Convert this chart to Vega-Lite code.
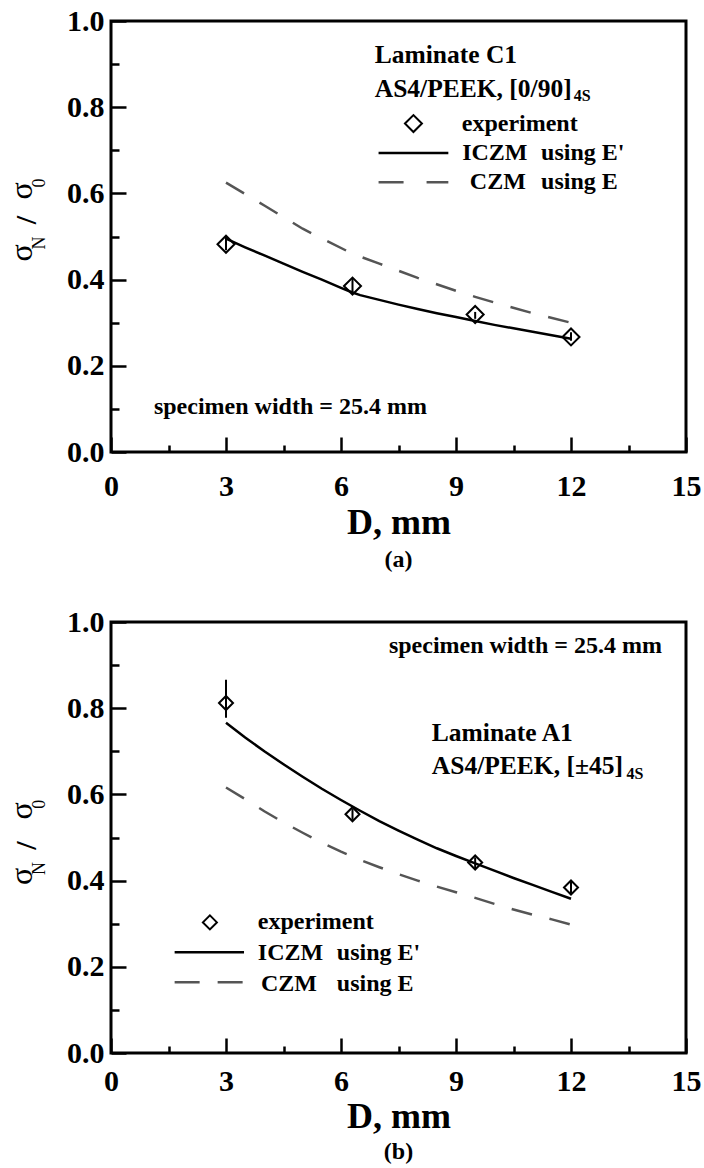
{
  "$schema": "https://vega.github.io/schema/vega-lite/v6.json",
  "background": "white",
  "padding": {"left": 4, "top": 4, "right": 0, "bottom": 0},
  "spacing": 31,
  "config": {
    "view": {"stroke": "black", "strokeWidth": 3},
    "axis": {
      "domain": false, "grid": false,
      "labelFont": "Liberation Serif", "labelFontWeight": "bold", "labelFontSize": 30, "labelColor": "black",
      "titleFont": "Liberation Serif", "titleFontWeight": "bold", "titleFontSize": 36, "titleColor": "black",
      "tickColor": "black", "tickWidth": 2.5, "labelFlush": false, "labelOverlap": false
    },
    "text": {"font": "Liberation Serif", "fontWeight": "bold", "fontSize": 24, "color": "black"}
  },
  "datasets": {
    "a_icz": [
      {"D": 3, "v": 0.495}, {"D": 3.5, "v": 0.475}, {"D": 4, "v": 0.456}, {"D": 4.5, "v": 0.437},
      {"D": 5, "v": 0.418}, {"D": 5.5, "v": 0.4}, {"D": 6, "v": 0.381}, {"D": 6.3, "v": 0.37},
      {"D": 6.5, "v": 0.364}, {"D": 7, "v": 0.353}, {"D": 7.5, "v": 0.342}, {"D": 8, "v": 0.332},
      {"D": 8.5, "v": 0.322}, {"D": 9, "v": 0.313}, {"D": 9.5, "v": 0.304}, {"D": 10, "v": 0.295},
      {"D": 10.5, "v": 0.287}, {"D": 11, "v": 0.279}, {"D": 11.5, "v": 0.271}, {"D": 12, "v": 0.263}
    ],
    "a_czm": [
      {"D": 3, "v": 0.625}, {"D": 4, "v": 0.572}, {"D": 5, "v": 0.518}, {"D": 6.3, "v": 0.46},
      {"D": 7, "v": 0.437}, {"D": 8, "v": 0.404}, {"D": 9, "v": 0.374}, {"D": 9.5, "v": 0.36},
      {"D": 10, "v": 0.347}, {"D": 11, "v": 0.322}, {"D": 12, "v": 0.3}
    ],
    "a_exp": [
      {"D": 3, "v": 0.482, "lo": 0.468, "hi": 0.499},
      {"D": 6.3, "v": 0.385, "lo": 0.367, "hi": 0.402},
      {"D": 9.5, "v": 0.319, "lo": 0.309, "hi": 0.325},
      {"D": 12, "v": 0.267, "lo": 0.258, "hi": 0.278}
    ],
    "b_icz": [
      {"D": 3, "v": 0.766}, {"D": 3.5, "v": 0.732}, {"D": 4, "v": 0.7}, {"D": 4.5, "v": 0.67},
      {"D": 5, "v": 0.641}, {"D": 5.5, "v": 0.613}, {"D": 6, "v": 0.587}, {"D": 6.5, "v": 0.562},
      {"D": 7, "v": 0.538}, {"D": 7.5, "v": 0.516}, {"D": 8, "v": 0.495}, {"D": 8.5, "v": 0.475},
      {"D": 9, "v": 0.457}, {"D": 9.5, "v": 0.44}, {"D": 10, "v": 0.423}, {"D": 10.5, "v": 0.406},
      {"D": 11, "v": 0.39}, {"D": 11.5, "v": 0.374}, {"D": 12, "v": 0.358}
    ],
    "b_czm": [
      {"D": 3, "v": 0.616}, {"D": 3.5, "v": 0.589}, {"D": 4, "v": 0.561}, {"D": 4.5, "v": 0.535},
      {"D": 5, "v": 0.511}, {"D": 5.5, "v": 0.488}, {"D": 6, "v": 0.467}, {"D": 6.5, "v": 0.448},
      {"D": 7, "v": 0.431}, {"D": 7.5, "v": 0.415}, {"D": 8, "v": 0.4}, {"D": 8.5, "v": 0.386},
      {"D": 9, "v": 0.373}, {"D": 9.5, "v": 0.36}, {"D": 10, "v": 0.346}, {"D": 10.5, "v": 0.333},
      {"D": 11, "v": 0.321}, {"D": 11.5, "v": 0.31}, {"D": 12, "v": 0.298}
    ],
    "b_exp": [
      {"D": 3, "v": 0.812, "lo": 0.778, "hi": 0.866},
      {"D": 6.3, "v": 0.554, "lo": 0.541, "hi": 0.566},
      {"D": 9.5, "v": 0.442, "lo": 0.427, "hi": 0.454},
      {"D": 12, "v": 0.384, "lo": 0.369, "hi": 0.397}
    ]
  },
  "vconcat": [
    {
      "width": 575, "height": 431,
      "data": {"values": [{"k": 1}]},
      "layer": [
        {
          "data": {"name": "a_czm"},
          "mark": {"type": "line", "color": "#555555", "strokeWidth": 2.5, "strokeDash": [21, 18]},
          "encoding": {
            "x": {"field": "D", "type": "quantitative",
              "scale": {"domain": [0, 15], "nice": false, "zero": false},
              "axis": {"values": [0, 1.5, 3, 4.5, 6, 7.5, 9, 10.5, 12, 13.5, 15],
                "labelExpr": "datum.value % 3 === 0 ? format(datum.value, 'd') : ''",
                "tickSize": -15,
                "tickDash": {"condition": {"test": "datum.value % 3 !== 0", "value": [7, 40]}, "value": []},
                "labelPadding": 34, "title": "D, mm", "titlePadding": 4}},
            "y": {"field": "v", "type": "quantitative",
              "scale": {"domain": [0, 1], "nice": false, "zero": false},
              "axis": {"values": [0, 0.1, 0.2, 0.3, 0.4, 0.5, 0.6, 0.7, 0.8, 0.9, 1],
                "labelExpr": "round(datum.value*10) % 2 === 0 ? format(datum.value, '.1f') : ''",
                "tickSize": -15,
                "tickDash": {"condition": {"test": "round(datum.value*10) % 2 !== 0", "value": [8, 40]}, "value": []},
                "labelPadding": 22, "title": null}}
          }
        },
        {
          "data": {"name": "a_icz"},
          "mark": {"type": "line", "color": "black", "strokeWidth": 2.5},
          "encoding": {"x": {"field": "D", "type": "quantitative"}, "y": {"field": "v", "type": "quantitative"}}
        },
        {
          "data": {"name": "a_exp"},
          "mark": {"type": "rule", "color": "black", "strokeWidth": 2},
          "encoding": {"x": {"field": "D", "type": "quantitative"}, "y": {"field": "lo", "type": "quantitative"}, "y2": {"field": "hi"}}
        },
        {
          "data": {"name": "a_exp"},
          "mark": {"type": "point", "shape": "diamond", "filled": false, "color": "black", "strokeWidth": 2, "size": 289, "opacity": 1},
          "encoding": {"x": {"field": "D", "type": "quantitative"}, "y": {"field": "v", "type": "quantitative"}}
        },
        {
          "mark": {"type": "point", "shape": "diamond", "filled": false, "color": "black", "strokeWidth": 2, "size": 289, "opacity": 1},
          "encoding": {"x": {"datum": 7.89}, "y": {"datum": 0.762}}
        },
        {
          "mark": {"type": "rule", "color": "black", "strokeWidth": 2.5},
          "encoding": {"x": {"datum": 6.98}, "x2": {"datum": 8.8}, "y": {"datum": 0.694}}
        },
        {
          "mark": {"type": "rule", "color": "#555555", "strokeWidth": 2.5, "strokeDash": [25, 23]},
          "encoding": {"x": {"datum": 6.98}, "x2": {"datum": 8.8}, "y": {"datum": 0.626}}
        },
        {"mark": {"type": "text", "text": "Laminate C1", "align": "left", "baseline": "middle", "fontSize": 25.5},
         "encoding": {"x": {"datum": 6.88}, "y": {"datum": 0.921}}},
        {"mark": {"type": "text", "text": "AS4/PEEK, [0/90]", "align": "left", "baseline": "middle", "fontSize": 25.5},
         "encoding": {"x": {"datum": 6.88}, "y": {"datum": 0.842}}},
        {"mark": {"type": "text", "text": "4S", "align": "left", "baseline": "middle", "fontSize": 16},
         "encoding": {"x": {"datum": 12.07}, "y": {"datum": 0.826}}},
        {"mark": {"type": "text", "text": "experiment", "align": "left", "baseline": "middle"},
         "encoding": {"x": {"datum": 9.15}, "y": {"datum": 0.762}}},
        {"mark": {"type": "text", "text": "ICZM", "align": "left", "baseline": "middle"},
         "encoding": {"x": {"datum": 9.16}, "y": {"datum": 0.694}}},
        {"mark": {"type": "text", "text": "using E'", "align": "left", "baseline": "middle"},
         "encoding": {"x": {"datum": 11.22}, "y": {"datum": 0.694}}},
        {"mark": {"type": "text", "text": "CZM", "align": "left", "baseline": "middle"},
         "encoding": {"x": {"datum": 9.36}, "y": {"datum": 0.626}}},
        {"mark": {"type": "text", "text": "using E", "align": "left", "baseline": "middle"},
         "encoding": {"x": {"datum": 11.22}, "y": {"datum": 0.626}}},
        {"mark": {"type": "text", "text": "specimen width = 25.4 mm", "align": "left", "baseline": "middle"},
         "encoding": {"x": {"datum": 1.12}, "y": {"datum": 0.104}}},
        {"mark": {"type": "text", "text": "(a)", "align": "center", "baseline": "middle"},
         "encoding": {"x": {"datum": 7.5}, "y": {"datum": -0.251}}},
        {"mark": {"type": "text", "text": "σ", "angle": 270, "align": "center", "baseline": "middle", "fontSize": 32, "fontWeight": "normal"},
         "encoding": {"x": {"datum": -2.33}, "y": {"datum": 0.462}}},
        {"mark": {"type": "text", "text": "N", "angle": 270, "align": "center", "baseline": "middle", "fontSize": 18, "fontWeight": "normal"},
         "encoding": {"x": {"datum": -1.85}, "y": {"datum": 0.485}}},
        {"mark": {"type": "text", "text": "/", "angle": 270, "align": "center", "baseline": "middle", "fontSize": 30},
         "encoding": {"x": {"datum": -2.2}, "y": {"datum": 0.538}}},
        {"mark": {"type": "text", "text": "σ", "angle": 270, "align": "center", "baseline": "middle", "fontSize": 32, "fontWeight": "normal"},
         "encoding": {"x": {"datum": -2.33}, "y": {"datum": 0.606}}},
        {"mark": {"type": "text", "text": "0", "angle": 270, "align": "center", "baseline": "middle", "fontSize": 18, "fontWeight": "normal"},
         "encoding": {"x": {"datum": -1.86}, "y": {"datum": 0.624}}}
      ]
    },
    {
      "width": 575, "height": 431,
      "data": {"values": [{"k": 1}]},
      "layer": [
        {
          "data": {"name": "b_czm"},
          "mark": {"type": "line", "color": "#555555", "strokeWidth": 2.5, "strokeDash": [21, 18]},
          "encoding": {
            "x": {"field": "D", "type": "quantitative",
              "scale": {"domain": [0, 15], "nice": false, "zero": false},
              "axis": {"values": [0, 1.5, 3, 4.5, 6, 7.5, 9, 10.5, 12, 13.5, 15],
                "labelExpr": "datum.value % 3 === 0 ? format(datum.value, 'd') : ''",
                "tickSize": -15,
                "tickDash": {"condition": {"test": "datum.value % 3 !== 0", "value": [7, 40]}, "value": []},
                "labelPadding": 28, "title": "D, mm", "titlePadding": 3}},
            "y": {"field": "v", "type": "quantitative",
              "scale": {"domain": [0, 1], "nice": false, "zero": false},
              "axis": {"values": [0, 0.1, 0.2, 0.3, 0.4, 0.5, 0.6, 0.7, 0.8, 0.9, 1],
                "labelExpr": "round(datum.value*10) % 2 === 0 ? format(datum.value, '.1f') : ''",
                "tickSize": -15,
                "tickDash": {"condition": {"test": "round(datum.value*10) % 2 !== 0", "value": [8, 40]}, "value": []},
                "labelPadding": 22, "title": null}}
          }
        },
        {
          "data": {"name": "b_icz"},
          "mark": {"type": "line", "color": "black", "strokeWidth": 2.5},
          "encoding": {"x": {"field": "D", "type": "quantitative"}, "y": {"field": "v", "type": "quantitative"}}
        },
        {
          "data": {"name": "b_exp"},
          "mark": {"type": "rule", "color": "black", "strokeWidth": 2},
          "encoding": {"x": {"field": "D", "type": "quantitative"}, "y": {"field": "lo", "type": "quantitative"}, "y2": {"field": "hi"}}
        },
        {
          "data": {"name": "b_exp"},
          "mark": {"type": "point", "shape": "diamond", "filled": false, "color": "black", "strokeWidth": 2, "size": 196, "opacity": 1},
          "encoding": {"x": {"field": "D", "type": "quantitative"}, "y": {"field": "v", "type": "quantitative"}}
        },
        {
          "mark": {"type": "point", "shape": "diamond", "filled": false, "color": "black", "strokeWidth": 2, "size": 196, "opacity": 1},
          "encoding": {"x": {"datum": 2.58}, "y": {"datum": 0.303}}
        },
        {
          "mark": {"type": "rule", "color": "black", "strokeWidth": 2.5},
          "encoding": {"x": {"datum": 1.66}, "x2": {"datum": 3.47}, "y": {"datum": 0.234}}
        },
        {
          "mark": {"type": "rule", "color": "#555555", "strokeWidth": 2.5, "strokeDash": [25, 18]},
          "encoding": {"x": {"datum": 1.66}, "x2": {"datum": 3.47}, "y": {"datum": 0.164}}
        },
        {"mark": {"type": "text", "text": "specimen width = 25.4 mm", "align": "left", "baseline": "middle"},
         "encoding": {"x": {"datum": 7.25}, "y": {"datum": 0.944}}},
        {"mark": {"type": "text", "text": "Laminate A1", "align": "left", "baseline": "middle", "fontSize": 25.5},
         "encoding": {"x": {"datum": 8.37}, "y": {"datum": 0.743}}},
        {"mark": {"type": "text", "text": "AS4/PEEK, [±45]", "align": "left", "baseline": "middle", "fontSize": 25.5},
         "encoding": {"x": {"datum": 8.37}, "y": {"datum": 0.666}}},
        {"mark": {"type": "text", "text": "4S", "align": "left", "baseline": "middle", "fontSize": 16},
         "encoding": {"x": {"datum": 13.45}, "y": {"datum": 0.647}}},
        {"mark": {"type": "text", "text": "experiment", "align": "left", "baseline": "middle"},
         "encoding": {"x": {"datum": 3.83}, "y": {"datum": 0.303}}},
        {"mark": {"type": "text", "text": "ICZM", "align": "left", "baseline": "middle"},
         "encoding": {"x": {"datum": 3.83}, "y": {"datum": 0.232}}},
        {"mark": {"type": "text", "text": "using E'", "align": "left", "baseline": "middle"},
         "encoding": {"x": {"datum": 5.89}, "y": {"datum": 0.232}}},
        {"mark": {"type": "text", "text": "CZM", "align": "left", "baseline": "middle"},
         "encoding": {"x": {"datum": 3.91}, "y": {"datum": 0.16}}},
        {"mark": {"type": "text", "text": "using E", "align": "left", "baseline": "middle"},
         "encoding": {"x": {"datum": 5.89}, "y": {"datum": 0.16}}},
        {"mark": {"type": "text", "text": "(b)", "align": "center", "baseline": "middle"},
         "encoding": {"x": {"datum": 7.5}, "y": {"datum": -0.229}}},
        {"mark": {"type": "text", "text": "σ", "angle": 270, "align": "center", "baseline": "middle", "fontSize": 32, "fontWeight": "normal"},
         "encoding": {"x": {"datum": -2.33}, "y": {"datum": 0.41}}},
        {"mark": {"type": "text", "text": "N", "angle": 270, "align": "center", "baseline": "middle", "fontSize": 18, "fontWeight": "normal"},
         "encoding": {"x": {"datum": -1.85}, "y": {"datum": 0.428}}},
        {"mark": {"type": "text", "text": "/", "angle": 270, "align": "center", "baseline": "middle", "fontSize": 30},
         "encoding": {"x": {"datum": -2.2}, "y": {"datum": 0.481}}},
        {"mark": {"type": "text", "text": "σ", "angle": 270, "align": "center", "baseline": "middle", "fontSize": 32, "fontWeight": "normal"},
         "encoding": {"x": {"datum": -2.33}, "y": {"datum": 0.562}}},
        {"mark": {"type": "text", "text": "0", "angle": 270, "align": "center", "baseline": "middle", "fontSize": 18, "fontWeight": "normal"},
         "encoding": {"x": {"datum": -1.86}, "y": {"datum": 0.577}}}
      ]
    }
  ]
}
